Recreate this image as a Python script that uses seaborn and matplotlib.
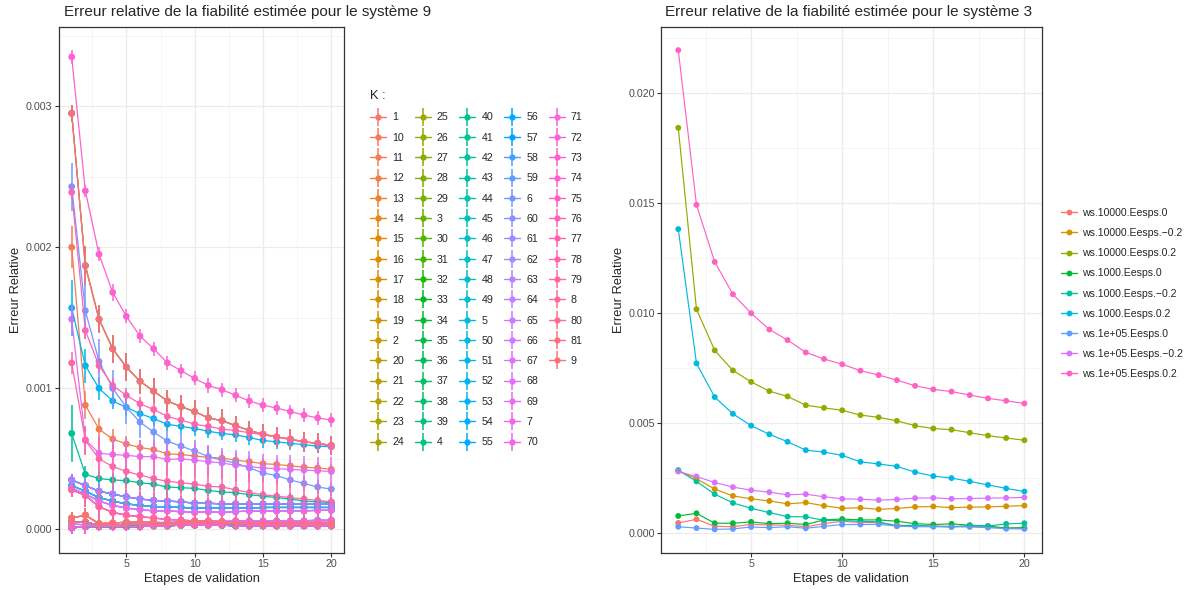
import numpy as np
import pandas as pd
import seaborn as sns
import matplotlib.pyplot as plt
from matplotlib.lines import Line2D
from matplotlib.legend_handler import HandlerTuple
from matplotlib.ticker import MultipleLocator, FormatStrFormatter

# ---- données : système 9 (erreurs, en unités de 1e-3) ----
steps = list(range(1, 21))
SCALE = 1e-3

prof_A = [3.35, 2.40, 1.95, 1.68, 1.51, 1.37, 1.28, 1.18, 1.125, 1.07, 1.02, 0.99, 0.95, 0.91, 0.88, 0.86, 0.835, 0.81, 0.79, 0.775]
prof_B = [2.95, 1.87, 1.49, 1.28, 1.15, 1.05, 0.98, 0.91, 0.87, 0.835, 0.79, 0.77, 0.735, 0.70, 0.675, 0.655, 0.64, 0.62, 0.61, 0.595]
prof_C = [2.39, 1.41, 1.16, 1.02, 0.95, 0.89, 0.85, 0.80, 0.775, 0.745, 0.73, 0.71, 0.70, 0.685, 0.67, 0.655, 0.635, 0.62, 0.61, 0.585]
prof_D = [2.43, 1.55, 1.19, 1.00, 0.865, 0.76, 0.69, 0.625, 0.59, 0.555, 0.515, 0.49, 0.47, 0.435, 0.40, 0.38, 0.35, 0.325, 0.30, 0.285]
prof_E = [1.57, 1.16, 1.00, 0.91, 0.865, 0.82, 0.785, 0.745, 0.73, 0.715, 0.695, 0.68, 0.67, 0.65, 0.63, 0.62, 0.61, 0.60, 0.59, 0.585]
prof_F = [2.00, 0.88, 0.71, 0.64, 0.605, 0.58, 0.565, 0.535, 0.53, 0.52, 0.51, 0.505, 0.49, 0.48, 0.465, 0.46, 0.45, 0.44, 0.435, 0.425]
prof_G = [1.49, 0.635, 0.54, 0.53, 0.525, 0.515, 0.515, 0.495, 0.50, 0.49, 0.48, 0.47, 0.455, 0.445, 0.435, 0.43, 0.425, 0.42, 0.415, 0.41]
prof_H = [1.18, 0.63, 0.50, 0.445, 0.41, 0.385, 0.36, 0.34, 0.33, 0.32, 0.305, 0.30, 0.28, 0.26, 0.245, 0.235, 0.225, 0.215, 0.205, 0.195]
prof_I = [0.68, 0.39, 0.36, 0.35, 0.345, 0.33, 0.32, 0.30, 0.295, 0.29, 0.275, 0.265, 0.26, 0.245, 0.235, 0.225, 0.215, 0.20, 0.195, 0.19]
prof_J1 = [0.35, 0.31, 0.27, 0.25, 0.23, 0.215, 0.205, 0.20, 0.195, 0.185, 0.185, 0.18, 0.18, 0.18, 0.18, 0.18, 0.18, 0.18, 0.18, 0.18]
prof_J2 = [0.31, 0.27, 0.225, 0.20, 0.18, 0.17, 0.16, 0.16, 0.155, 0.15, 0.15, 0.15, 0.15, 0.15, 0.155, 0.155, 0.155, 0.155, 0.155, 0.155]
prof_J2b = [0.29, 0.25, 0.20, 0.17, 0.15, 0.14, 0.13, 0.13, 0.125, 0.12, 0.125, 0.12, 0.125, 0.13, 0.13, 0.13, 0.13, 0.13, 0.135, 0.135]
prof_J3 = [0.28, 0.24, 0.16, 0.12, 0.10, 0.09, 0.08, 0.07, 0.065, 0.06, 0.06, 0.055, 0.055, 0.05, 0.05, 0.05, 0.05, 0.05, 0.05, 0.05]
prof_K1 = [0.08, 0.10, 0.04, 0.045, 0.05, 0.05, 0.05, 0.045, 0.05, 0.055, 0.05, 0.05, 0.045, 0.04, 0.04, 0.04, 0.04, 0.04, 0.04, 0.04]
prof_K2 = [0.05, 0.05, 0.03, 0.03, 0.035, 0.035, 0.035, 0.035, 0.04, 0.045, 0.045, 0.045, 0.04, 0.04, 0.035, 0.035, 0.035, 0.035, 0.035, 0.035]
prof_K3 = [0.01, 0.02, 0.02, 0.02, 0.02, 0.02, 0.025, 0.025, 0.03, 0.03, 0.03, 0.03, 0.025, 0.025, 0.025, 0.025, 0.025, 0.025, 0.025, 0.025]
prof_K4 = [0.04, 0.03, 0.03, 0.03, 0.035, 0.04, 0.045, 0.05, 0.05, 0.055, 0.055, 0.055, 0.06, 0.06, 0.06, 0.06, 0.06, 0.06, 0.065, 0.065]

# demi-largeurs des barres d'erreur (1e-3)
err_A = [0.05, 0.04, 0.05, 0.06, 0.05, 0.05, 0.05, 0.05, 0.05, 0.05, 0.05, 0.05, 0.05, 0.05, 0.05, 0.05, 0.05, 0.05, 0.05, 0.05]
err_B = [0.06, 0.14, 0.10, 0.10, 0.10, 0.09, 0.09, 0.08, 0.08, 0.08, 0.08, 0.08, 0.07, 0.07, 0.07, 0.07, 0.07, 0.07, 0.07, 0.07]
err_C = [0.05, 0.06, 0.05, 0.05, 0.05, 0.05, 0.05, 0.05, 0.05, 0.05, 0.05, 0.05, 0.05, 0.05, 0.05, 0.05, 0.05, 0.05, 0.05, 0.05]
err_D = [0.17, 0.20, 0.16, 0.13, 0.12, 0.11, 0.10, 0.09, 0.09, 0.08, 0.08, 0.07, 0.07, 0.07, 0.06, 0.06, 0.06, 0.05, 0.05, 0.05]
err_E = [0.20, 0.12, 0.08, 0.06, 0.06, 0.05, 0.05, 0.05, 0.05, 0.05, 0.05, 0.05, 0.05, 0.05, 0.05, 0.05, 0.05, 0.05, 0.05, 0.05]
err_F = [0.15, 0.10, 0.08, 0.07, 0.06, 0.05, 0.05, 0.05, 0.05, 0.05, 0.05, 0.04, 0.04, 0.04, 0.04, 0.04, 0.04, 0.04, 0.04, 0.04]
err_G = [0.10, 0.10, 0.12, 0.12, 0.12, 0.12, 0.12, 0.12, 0.12, 0.12, 0.11, 0.11, 0.11, 0.11, 0.10, 0.10, 0.10, 0.10, 0.10, 0.10]
err_H = [0.08, 0.10, 0.15, 0.15, 0.15, 0.15, 0.15, 0.15, 0.14, 0.14, 0.14, 0.13, 0.13, 0.13, 0.12, 0.12, 0.12, 0.12, 0.11, 0.11]
err_I = [0.20, 0.06, 0.05, 0.05, 0.05, 0.05, 0.05, 0.05, 0.04, 0.04, 0.04, 0.04, 0.04, 0.04, 0.04, 0.04, 0.04, 0.04, 0.04, 0.04]
err_J = [0.04, 0.05, 0.06, 0.06, 0.05, 0.05, 0.05, 0.05, 0.04, 0.04, 0.04, 0.04, 0.04, 0.04, 0.04, 0.04, 0.04, 0.04, 0.04, 0.04]
err_J3 = [0.05, 0.08, 0.12, 0.10, 0.10, 0.09, 0.08, 0.07, 0.06, 0.06, 0.06, 0.05, 0.05, 0.05, 0.05, 0.05, 0.05, 0.05, 0.04, 0.04]
err_K = [0.04, 0.05, 0.03, 0.03, 0.03, 0.03, 0.03, 0.03, 0.03, 0.03, 0.03, 0.03, 0.03, 0.03, 0.03, 0.03, 0.03, 0.03, 0.03, 0.03]

profiles = {
    'A': (prof_A, err_A), 'B': (prof_B, err_B), 'C': (prof_C, err_C),
    'D': (prof_D, err_D), 'E': (prof_E, err_E), 'F': (prof_F, err_F),
    'G': (prof_G, err_G), 'H': (prof_H, err_H), 'I': (prof_I, err_I),
    'J1': (prof_J1, err_J), 'J2': (prof_J2, err_J), 'J2b': (prof_J2b, err_J),
    'J3': (prof_J3, err_J3), 'K1': (prof_K1, err_K), 'K2': (prof_K2, err_K),
    'K3': (prof_K3, err_K), 'K4': (prof_K4, err_K),
}

# niveaux K (ordre alphabétique comme dans R) -> courbe lue
k_levels = sorted([str(k) for k in range(1, 82)])
k_profile = {
    '1': 'K1', '10': 'K2', '11': 'F', '12': 'K1', '13': 'K2', '14': 'B', '15': 'K3',
    '16': 'K2', '17': 'K1', '18': 'K3', '19': 'K2', '2': 'K3', '20': 'K2', '21': 'K3',
    '22': 'K2', '23': 'K3', '24': 'K2',
    '25': 'K3', '26': 'K2', '27': 'K3', '28': 'B', '29': 'K2', '3': 'K3', '30': 'K2',
    '31': 'K3', '32': 'K2', '33': 'K3', '34': 'K2', '35': 'K3', '36': 'J2', '37': 'K2',
    '38': 'K3', '39': 'K2', '4': 'K3',
    '40': 'K3', '41': 'I', '42': 'K2', '43': 'J1', '44': 'K3', '45': 'J2', '46': 'K2',
    '47': 'K3', '48': 'J1', '49': 'K2', '5': 'K3', '50': 'J2', '51': 'K2', '52': 'E',
    '53': 'K3', '54': 'J1', '55': 'J2',
    '56': 'K3', '57': 'J1', '58': 'K4', '59': 'J2', '6': 'D', '60': 'K3', '61': 'J2b',
    '62': 'K4', '63': 'J2b', '64': 'K3', '65': 'J2b', '66': 'J1', '67': 'K4', '68': 'G',
    '69': 'J2b', '7': 'K3', '70': 'J3',
    '71': 'K2', '72': 'J3', '73': 'A', '74': 'K3', '75': 'J3', '76': 'K2', '77': 'C',
    '78': 'H', '79': 'J3', '8': 'B', '80': 'K1', '81': 'K2', '9': 'K1',
}

# ---- données : système 3 ----
ws_levels = ['ws.10000.Eesps.0', 'ws.10000.Eesps.\u22120.2', 'ws.10000.Eesps.0.2',
             'ws.1000.Eesps.0', 'ws.1000.Eesps.\u22120.2', 'ws.1000.Eesps.0.2',
             'ws.1e+05.Eesps.0', 'ws.1e+05.Eesps.\u22120.2', 'ws.1e+05.Eesps.0.2']
ws10000_e0 = [0.47, 0.64, 0.32, 0.30, 0.41, 0.38, 0.37, 0.30, 0.44, 0.55, 0.49, 0.49, 0.37, 0.35, 0.33, 0.32, 0.32, 0.29, 0.24, 0.23]
ws10000_em = [2.84, 2.48, 2.01, 1.70, 1.57, 1.47, 1.34, 1.40, 1.25, 1.14, 1.16, 1.09, 1.13, 1.20, 1.22, 1.17, 1.19, 1.20, 1.23, 1.26]
ws10000_ep = [18.42, 10.18, 8.31, 7.40, 6.88, 6.46, 6.22, 5.82, 5.70, 5.59, 5.37, 5.27, 5.11, 4.89, 4.76, 4.71, 4.57, 4.44, 4.33, 4.23]
ws1000_e0 = [0.79, 0.91, 0.46, 0.46, 0.52, 0.44, 0.46, 0.40, 0.61, 0.65, 0.61, 0.61, 0.55, 0.44, 0.40, 0.43, 0.37, 0.33, 0.24, 0.26]
ws1000_em = [2.87, 2.36, 1.78, 1.38, 1.14, 0.94, 0.76, 0.75, 0.59, 0.58, 0.55, 0.52, 0.33, 0.37, 0.32, 0.29, 0.35, 0.33, 0.43, 0.46]
ws1000_ep = [13.82, 7.72, 6.19, 5.43, 4.89, 4.50, 4.16, 3.78, 3.69, 3.54, 3.25, 3.15, 3.04, 2.78, 2.60, 2.51, 2.36, 2.20, 2.04, 1.90]
ws1e05_e0 = [0.30, 0.24, 0.18, 0.20, 0.29, 0.26, 0.30, 0.23, 0.32, 0.40, 0.40, 0.41, 0.33, 0.30, 0.30, 0.30, 0.29, 0.26, 0.21, 0.20]
ws1e05_em = [2.81, 2.58, 2.31, 2.10, 1.96, 1.87, 1.75, 1.78, 1.66, 1.57, 1.55, 1.51, 1.54, 1.60, 1.61, 1.57, 1.58, 1.60, 1.61, 1.63]
ws1e05_ep = [21.95, 14.92, 12.33, 10.86, 10.00, 9.26, 8.78, 8.22, 7.92, 7.68, 7.39, 7.19, 6.96, 6.70, 6.54, 6.44, 6.28, 6.13, 6.02, 5.90]
ws_values = [ws10000_e0, ws10000_em, ws10000_ep, ws1000_e0, ws1000_em, ws1000_ep,
             ws1e05_e0, ws1e05_em, ws1e05_ep]


def hcl_rgb(h, c=100.0, l=65.0):
    """couleur hcl() de R (palette par défaut de ggplot)"""
    xn, yn, zn = 95.047, 100.0, 108.883
    hr = np.deg2rad(h)
    y = yn * ((l + 16) / 116) ** 3
    den = xn + 15 * yn + 3 * zn
    u = c * np.cos(hr) / (13 * l) + 4 * xn / den
    v = c * np.sin(hr) / (13 * l) + 9 * yn / den
    x = 9 * y * u / (4 * v)
    z = -x / 3 - 5 * y + 3 * y / v
    x, y, z = x / 100, y / 100, z / 100
    lin = [3.240479 * x - 1.537150 * y - 0.498535 * z,
           -0.969256 * x + 1.875992 * y + 0.041556 * z,
           0.055648 * x - 0.204043 * y + 1.057311 * z]
    out = []
    for t in lin:
        t = 1.055 * t ** (1 / 2.4) - 0.055 if t > 0.0031308 else 12.92 * t
        out.append(min(1.0, max(0.0, t)))
    return tuple(out)


def hue_pal(levels):
    n = len(levels)
    return {lev: hcl_rgb(15 + 360 * i / n) for i, lev in enumerate(levels)}


# tableaux longs
rows = []
for k in k_levels:
    vals, errs = profiles[k_profile[k]]
    for s, v, e in zip(steps, vals, errs):
        rows.append((k, s, v * SCALE, (v - e) * SCALE, (v + e) * SCALE))
df9 = pd.DataFrame(rows, columns=['K', 'step', 'err', 'lo', 'hi'])

rows = []
for lev, vals in zip(ws_levels, ws_values):
    for s, v in zip(steps, vals):
        rows.append((lev, s, v * SCALE))
df3 = pd.DataFrame(rows, columns=['serie', 'step', 'err'])

pal9 = hue_pal(k_levels)
pal3 = hue_pal(ws_levels)

sns.set_theme(style='white')
plt.rcParams['font.family'] = ['Liberation Sans', 'DejaVu Sans']

fig = plt.figure(figsize=(11.92, 5.90), dpi=100)
ax1 = fig.add_axes([0.04925, 0.0632, 0.2396, 0.8910])
ax2 = fig.add_axes([0.5545, 0.0632, 0.3194, 0.8910])

# système 9 : lignes, barres puis points
sns.lineplot(data=df9, x='step', y='err', hue='K', hue_order=k_levels, palette=pal9,
             estimator=None, linewidth=0.9, legend=False, ax=ax1)
ax1.vlines(df9['step'], df9['lo'], df9['hi'], colors=[pal9[k] for k in df9['K']],
           linewidth=1.1)
sns.scatterplot(data=df9, x='step', y='err', hue='K', hue_order=k_levels, palette=pal9,
                s=24, linewidth=0, legend=False, ax=ax1)

# système 3
sns.lineplot(data=df3, x='step', y='err', hue='serie', hue_order=ws_levels, palette=pal3,
             estimator=None, linewidth=0.85, legend=False, ax=ax2)
sns.scatterplot(data=df3, x='step', y='err', hue='serie', hue_order=ws_levels, palette=pal3,
                s=18, linewidth=0, legend=False, ax=ax2)

for ax, ymaj, ymin in [(ax1, 0.001, 0.0005), (ax2, 0.005, 0.0025)]:
    ax.set_xlim(0.05, 20.95)
    ax.xaxis.set_major_locator(MultipleLocator(5))
    ax.xaxis.set_minor_locator(MultipleLocator(2.5))
    ax.yaxis.set_major_locator(MultipleLocator(ymaj))
    ax.yaxis.set_minor_locator(MultipleLocator(ymin))
    ax.yaxis.set_major_formatter(FormatStrFormatter('%.3f'))
    ax.grid(True, which='major', color='#EBEBEB', linewidth=0.9)
    ax.grid(True, which='minor', color='#F2F2F2', linewidth=0.5)
    ax.set_axisbelow(True)
    for sp in ax.spines.values():
        sp.set_color('#333333')
        sp.set_linewidth(0.9)
    ax.tick_params(which='major', length=3, width=0.8, color='#333333',
                   labelsize=7.7, labelcolor='#4D4D4D', pad=1.5, bottom=True, left=True)
    ax.tick_params(which='minor', length=0)
    ax.set_xlabel('Etapes de validation', fontsize=9.3, labelpad=3)
    ax.set_ylabel('Erreur Relative', fontsize=9.3, labelpad=2.5)

ax1.set_ylim(-0.000166, 0.003562)
ax2.set_ylim(-0.00088, 0.0230)

fig.text(64 / 1192, 1 - 12 / 590, 'Erreur relative de la fiabilité estimée pour le système 9',
         fontsize=11, va='center', ha='left')
fig.text(665 / 1192, 1 - 12 / 590, 'Erreur relative de la fiabilité estimée pour le système 3',
         fontsize=11, va='center', ha='left')

# légende K (pointrange) : 5 colonnes de 17 comme ggplot
handles = []
labels = []
for k in k_levels:
    c = pal9[k]
    handles.append((Line2D([], [], color=c, lw=1.0, marker='o', ms=4.5, mew=0),
                    Line2D([], [], color=c, lw=0, marker='|', ms=13, mew=1.1)))
    labels.append(k)
for _ in range(85 - len(k_levels)):
    handles.append(Line2D([], [], lw=0, alpha=0))
    labels.append('')
fig.legend(handles, labels, title='K :', ncol=5, loc='upper left',
           bbox_to_anchor=(370 / 1192, 1 - 90 / 590), frameon=False,
           fontsize=7.7, title_fontsize=9.3, alignment='left',
           handlelength=1.5, handletextpad=0.56, columnspacing=1.01,
           labelspacing=0.965, borderpad=0, borderaxespad=0,
           handler_map={tuple: HandlerTuple(ndivide=1)})

# légende système 3
handles3 = [Line2D([], [], color=pal3[s], lw=1.0, marker='o', ms=4.2, mew=0) for s in ws_levels]
fig.legend(handles3, ws_levels, loc='upper left', bbox_to_anchor=(1061 / 1192, 1 - 208 / 590),
           frameon=False, fontsize=7.6, handlelength=1.55, handletextpad=0.45,
           labelspacing=0.96, borderpad=0, borderaxespad=0)

fig.savefig('out.png', dpi=100)
